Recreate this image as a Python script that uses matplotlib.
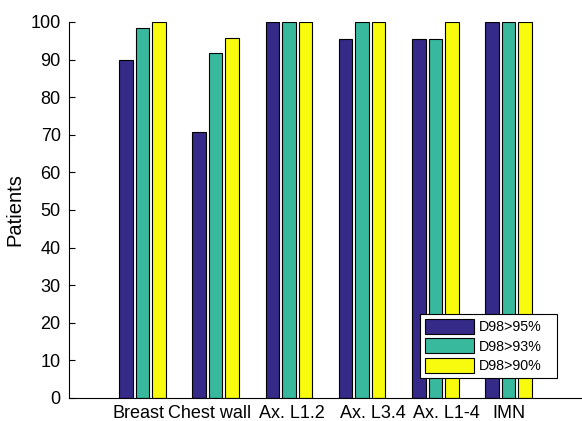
import matplotlib
matplotlib.use("Agg")
import matplotlib.pyplot as plt
import matplotlib.transforms as mtransforms
import numpy as np

plt.rcParams['font.family'] = ['Liberation Sans', 'DejaVu Sans']

categories = ["Breast", "Chest wall", "Ax. L1.2", "Ax. L3.4", "Ax. L1-4", "IMN"]
series_names = ["D98>95%", "D98>93%", "D98>90%"]
d95 = [89.8, 70.8, 100, 95.6, 95.5, 100]
d93 = [98.3, 91.7, 100, 100, 95.5, 100]
d90 = [100, 95.8, 100, 100, 100, 100]
colors = ["#352a87", "#38b99e", "#f9fb0e"]
yticks = list(range(0, 101, 10))

fig = plt.figure(figsize=(5.82, 4.21), dpi=100)
ax = fig.add_axes([69/582, 23/421, 513/582, 376/421])

x = np.arange(1, len(categories) + 1)
width = 0.184
step = 0.225
for i, (vals, name, c) in enumerate(zip([d95, d93, d90], series_names, colors)):
    ax.bar(x + (i - 1) * step, vals, width, color=c, edgecolor="black",
           linewidth=0.8, label=name)

ax.set_xlim(0, 7)
ax.set_ylim(0, 100)
ax.set_xticks(x)
ax.set_xticklabels(categories, fontsize=13)
ax.set_yticks(yticks)
ax.tick_params(axis='y', direction='in', length=4, labelsize=13, pad=6)
ax.tick_params(axis='x', length=0, pad=5)
ax.spines['top'].set_visible(False)
ax.spines['right'].set_visible(False)
ax.set_ylabel("Patients", fontsize=14.5, labelpad=4)

# small horizontal shifts of the category labels, as in the reference
shifts_px = [-4, -6, 3.5, 11, 11, 0]
for lab, dx in zip(ax.get_xticklabels(), shifts_px):
    lab.set_transform(lab.get_transform() +
                      mtransforms.ScaledTranslation(dx / 100, 0, fig.dpi_scale_trans))

leg = ax.legend(loc='lower left', bbox_to_anchor=(0.684, 0.053, 0.267, 0.181),
                mode='expand',
                fontsize=10.3, fancybox=False, framealpha=1,
                edgecolor='black', handlelength=3.4, handleheight=1.2,
                borderaxespad=0, borderpad=0.35, labelspacing=0.3, handletextpad=0.35)
leg.get_frame().set_linewidth(0.8)

fig.savefig("out.png", dpi=100)
